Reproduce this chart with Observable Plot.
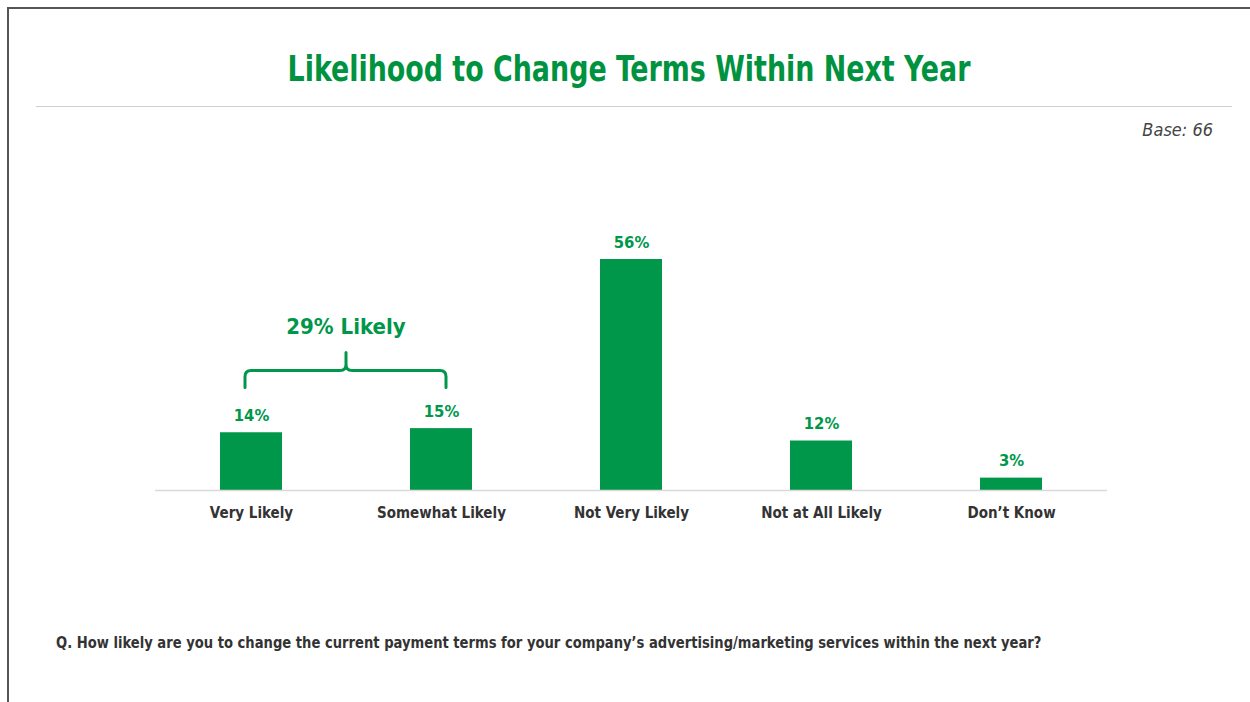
<!DOCTYPE html>
<html><head><meta charset="utf-8">
<script src="https://cdn.jsdelivr.net/npm/d3@7"></script>
<script src="https://cdn.jsdelivr.net/npm/@observablehq/plot@0.6"></script>
<style>
body{margin:0;background:#fff;}
#page{position:relative;width:1250px;height:702px;overflow:hidden;background:#fff;
  font-family:"Liberation Sans Narrow","DejaVu Sans Condensed","Roboto Condensed",Roboto,sans-serif;}
.frame{position:absolute;left:7px;top:7px;width:1300px;height:800px;border-top:2px solid #555;border-left:2px solid #555;}
.title{position:absolute;left:0;width:1258px;top:46px;text-align:center;color:#00933F;font-weight:bold;font-size:36px;line-height:46px;transform:scaleX(0.83);transform-origin:629px 50%;}
.sep{position:absolute;left:36px;width:1196px;top:106px;height:0;border-top:1px solid #cfcfcf;}
.base{position:absolute;right:37px;top:118px;font-style:italic;font-size:18px;color:#444;line-height:24px;}
#chart{position:absolute;left:0;top:200px;}
.question{position:absolute;left:56px;top:632px;font-size:16.5px;font-weight:bold;color:#333;line-height:22px;white-space:nowrap;transform:scaleX(0.885);transform-origin:0 50%;}
</style></head><body>
<div id="page">
  <div class="frame"></div>
  <div class="title">Likelihood to Change Terms Within Next Year</div>
  <div class="sep"></div>
  <div class="base">Base: 66</div>
  <div id="chart"></div>
  <div class="question">Q. How likely are you to change the current payment terms for your company’s advertising/marketing services within the next year?</div>
</div>
<script>
const categories = ["Very Likely", "Somewhat Likely", "Not Very Likely", "Not at All Likely", "Don’t Know"];
const values = [14, 15, 56, 12, 3];
const groupMembers = ["Very Likely", "Somewhat Likely"];
const groupName = "Likely";

const data = categories.map((c, i) => ({category: c, value: values[i]}));
const groupTotal = d3.sum(data.filter(d => groupMembers.includes(d.category)), d => d.value);

const green = "#00974A";

function bracketMark(index, scales) {
  const x = scales.x;
  const bwRaw = x.bandwidth;
  const bw = typeof bwRaw === "function" ? bwRaw() : (+bwRaw || 0);
  const c1 = x(groupMembers[0]) + bw / 2;
  const c2 = x(groupMembers[groupMembers.length - 1]) + bw / 2;
  const x1 = c1 - 6, x2 = c2 + 5, xm = (c1 + c2) / 2;
  const y = scales.y(groupTotal);
  const r = 6;
  const g = d3.create("svg:g");
  const p = [
    `M${x1},${y + 17}V${y + r}Q${x1},${y} ${x1 + r},${y}H${xm - r}Q${xm},${y} ${xm},${y - r}V${y - 18}`,
    `M${xm},${y - r}Q${xm},${y} ${xm + r},${y}H${x2 - r}Q${x2},${y} ${x2},${y + r}V${y + 17}`
  ].join("");
  g.append("path").attr("d", p).attr("fill", "none").attr("stroke", green)
    .attr("stroke-width", 3).attr("stroke-linecap", "round").attr("stroke-linejoin", "round");
  g.append("text").attr("x", xm).attr("y", y - 44).attr("text-anchor", "middle")
    .attr("dy", "0.35em").attr("fill", green).attr("font-weight", "bold").attr("font-size", 22)
    .text(`${groupTotal}% ${groupName}`);
  return g.node();
}

const plot = Plot.plot({
  width: 1250,
  height: 340,
  marginLeft: 155,
  marginRight: 143,
  marginTop: 59,
  marginBottom: 50,
  style: {fontFamily: '"Liberation Sans Narrow","DejaVu Sans Condensed",Roboto,sans-serif', background: "transparent", overflow: "visible"},
  x: {domain: categories, paddingInner: 0.674, paddingOuter: 0.337, label: null},
  y: {domain: [0, 56], axis: null},
  marks: [
    Plot.barY(data, {x: "category", y: "value", fill: green}),
    Plot.ruleY([0], {stroke: "#d9d9d9", strokeWidth: 1.5}),
    Plot.text(data, {x: "category", y: "value", text: d => `${d.value}%`, dy: -17, fill: green, fontWeight: "bold", fontSize: 16.5}),
    Plot.axisX({tickSize: 0, tickPadding: 17, fontSize: 15, fontWeight: "bold", fill: "#333", label: null}),
    bracketMark
  ]
});
document.getElementById("chart").appendChild(plot);
</script>
</body></html>
